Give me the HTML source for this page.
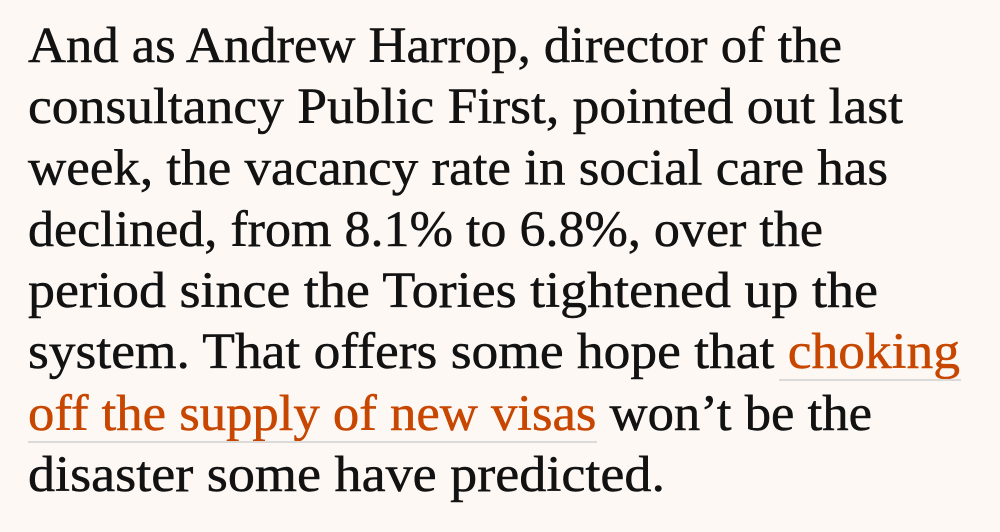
<!DOCTYPE html>
<html><head><meta charset="utf-8"><style>
html,body{margin:0;padding:0;background:#fdf8f4;}
svg{display:block;}
text{font-family:"Liberation Serif",serif;font-size:51px;fill:#121212;stroke:#121212;stroke-width:0.5px;}
.l{fill:#c74600;stroke:#c74600;}
</style></head><body>
<svg width="1000" height="532" viewBox="0 0 1000 532" xmlns="http://www.w3.org/2000/svg">
<rect width="1000" height="532" fill="#fdf8f4"/>
<text x="28" y="62" textLength="814" lengthAdjust="spacingAndGlyphs">And as Andrew Harrop, director of the</text>
<text x="28" y="123" textLength="875" lengthAdjust="spacingAndGlyphs">consultancy Public First, pointed out last</text>
<text x="28" y="184.5" textLength="860" lengthAdjust="spacingAndGlyphs">week, the vacancy rate in social care has</text>
<text x="28" y="246" textLength="795" lengthAdjust="spacingAndGlyphs">declined, from 8.1% to 6.8%, over the</text>
<text x="28" y="307" textLength="850" lengthAdjust="spacingAndGlyphs">period since the Tories tightened up the</text>
<text x="28" y="368" textLength="932" lengthAdjust="spacingAndGlyphs">system. That offers some hope that <tspan class="l">choking</tspan></text>
<rect x="779" y="379" width="182" height="2" fill="#dcdad8"/>
<text x="28" y="430" textLength="844" lengthAdjust="spacingAndGlyphs"><tspan class="l">off the supply of new visas</tspan> won’t be the</text>
<rect x="28" y="441" width="569" height="2" fill="#dcdad8"/>
<text x="28" y="491" textLength="637" lengthAdjust="spacingAndGlyphs">disaster some have predicted.</text>
</svg>
</body></html>
